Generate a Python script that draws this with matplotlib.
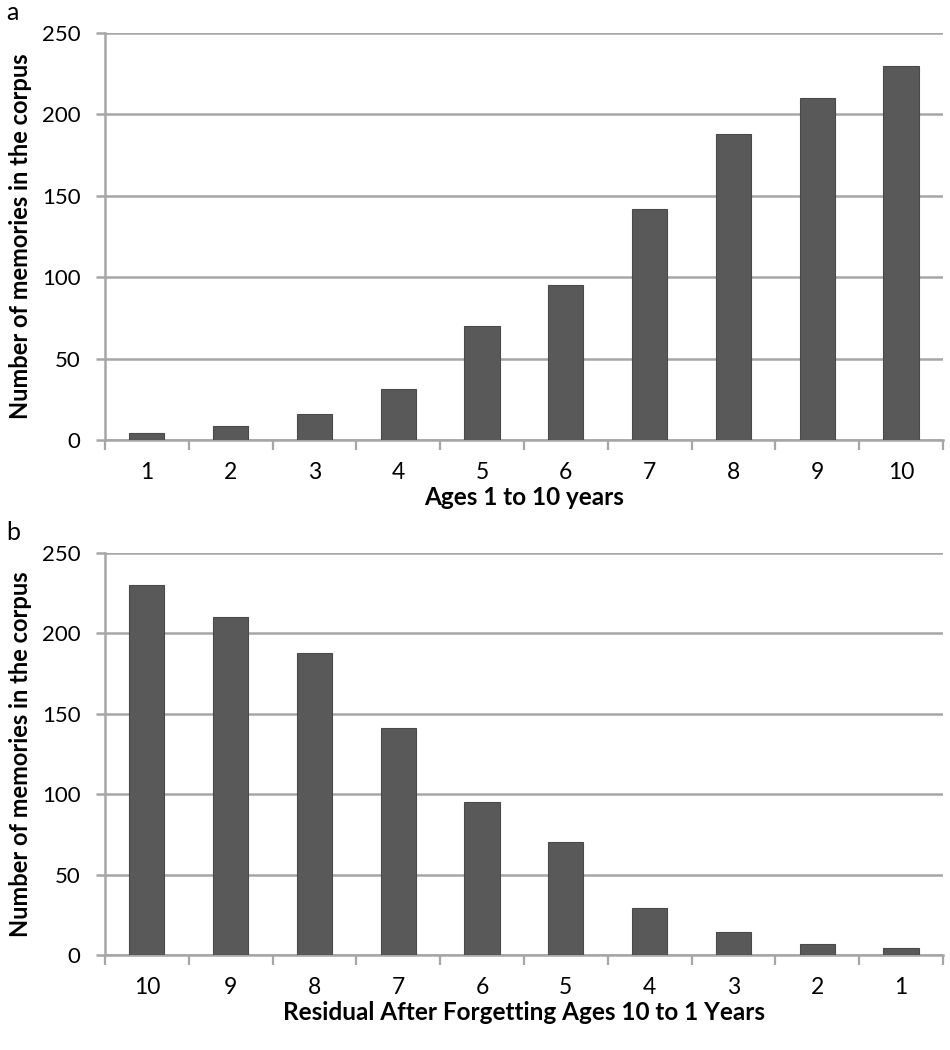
import numpy as np
import matplotlib
matplotlib.use("Agg")
import matplotlib.pyplot as plt

# ---------------------------------------------------------------------------
# Data
# ---------------------------------------------------------------------------
ages_a = ["1", "2", "3", "4", "5", "6", "7", "8", "9", "10"]
counts_a = [4.5, 8.8, 15.8, 31, 70, 95, 142, 188, 210, 230]

ages_b = ["10", "9", "8", "7", "6", "5", "4", "3", "2", "1"]
counts_b = [230, 210, 188, 141, 95, 70, 29, 14, 7, 4.5]

panels = [
    ("a", ages_a, counts_a, "Ages 1 to 10 years"),
    ("b", ages_b, counts_b, "Residual After Forgetting Ages 10 to 1 Years"),
]

plt.rcParams["font.family"] = ["Lato", "DejaVu Sans"]

GRID = "#a6a6a6"
BAR = "#595959"

fig = plt.figure(figsize=(9.5, 10.5), dpi=100)
rects = [[0.1105, 0.581, 0.882, 0.3876],
         [0.1105, 0.0905, 0.882, 0.3829]]

for rect, (letter, labels, values, xlabel) in zip(rects, panels):
    ax = fig.add_axes(rect)
    x = np.arange(len(labels))
    ax.bar(x, values, width=0.42, color=BAR, edgecolor="#4a4a4a",
           linewidth=0.8, zorder=3)

    ax.set_xlim(-0.5, len(labels) - 0.5)
    ax.set_ylim(0, 250)
    ax.set_yticks(np.arange(0, 251, 50))
    ax.yaxis.grid(True, color=GRID, linewidth=1.8, zorder=0)
    ax.set_axisbelow(True)

    ax.set_xticks(x)
    ax.set_xticklabels(labels)
    ax.set_xticks(np.arange(-0.5, len(labels)), minor=True)
    ax.tick_params(axis="x", which="major", length=0, pad=16, labelsize=16.5)
    ax.tick_params(axis="x", which="minor", length=7, width=1.6,
                   color=GRID, direction="out")
    ax.tick_params(axis="y", length=6.5, width=1.8, color=GRID,
                   pad=11, labelsize=16)

    for side in ["top", "right"]:
        ax.spines[side].set_visible(False)
    for side in ["left", "bottom"]:
        ax.spines[side].set_color(GRID)
        ax.spines[side].set_linewidth(1.8)

    ax.set_ylabel("Number of memories in the corpus", fontsize=17,
                  fontweight="bold", labelpad=7)
    ax.set_xlabel(xlabel, fontsize=17.5, fontweight="bold", labelpad=2)

    # panel letter
    ax.text(-0.118, 1.05, letter, transform=ax.transAxes, fontsize=18,
            ha="left", va="center")

fig.savefig("out.png", dpi=100)
